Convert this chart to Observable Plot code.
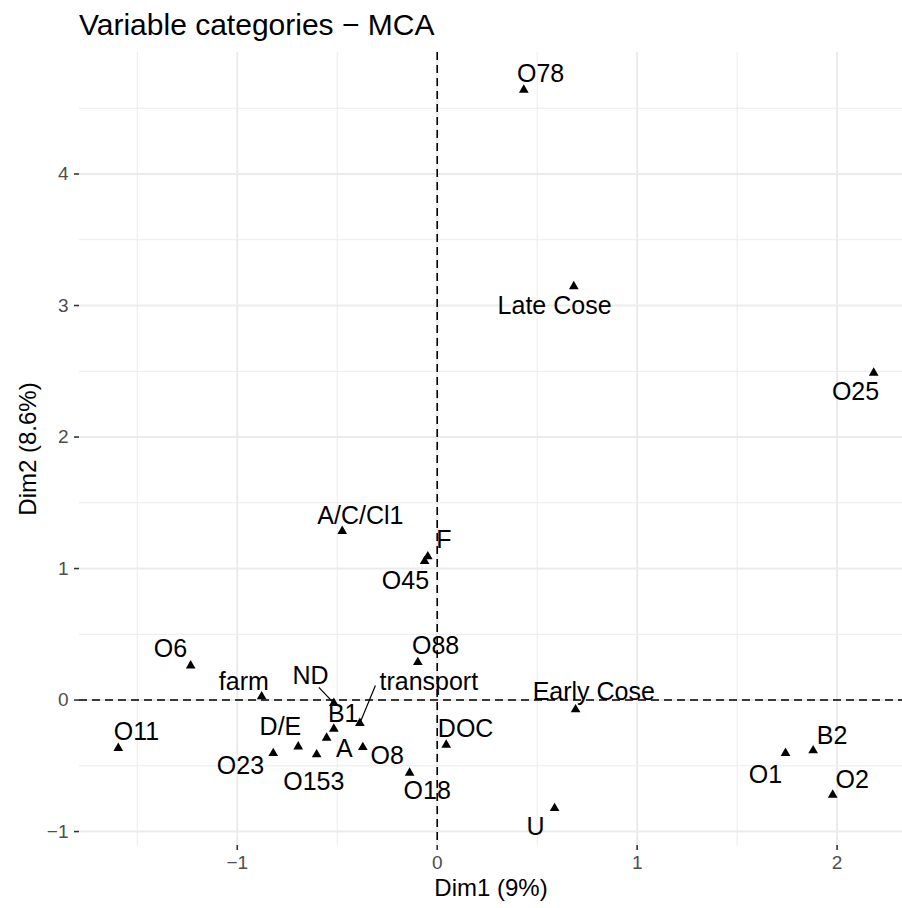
<!DOCTYPE html>
<html><head><meta charset="utf-8">
<script src="https://cdn.jsdelivr.net/npm/d3@7"></script>
<script src="https://cdn.jsdelivr.net/npm/@observablehq/plot@0.6"></script>
<style>
body{margin:0;background:#fff;font-family:"Liberation Sans",Arial,sans-serif;}
#title{height:40px;box-sizing:border-box;padding-top:10px;padding-left:79px;font-size:30px;line-height:1;color:#000;white-space:nowrap}
</style></head><body>
<div id="title">Variable categories − MCA</div>
<div id="chart"></div>
<script>
// Category labels and their coordinates on the first two MCA dimensions
const labels = ["O78","Late Cose","O25","A/C/Cl1","F","O45","O88","O6","farm","ND","transport","Early Cose","O11","D/E","B1","A","O8","DOC","O23","O153","O18","U","O1","B2","O2"];
const dim1 = [0.433, 0.683, 2.183, -0.475, -0.047, -0.063, -0.097, -1.233, -0.878, -0.517, -0.387, 0.692, -1.595, -0.695, -0.517, -0.553, -0.372, 0.045, -0.82, -0.603, -0.138, 0.587, 1.742, 1.88, 1.978];
const dim2 = [4.64, 3.145, 2.488, 1.284, 1.091, 1.055, 0.287, 0.262, 0.027, -0.024, -0.176, -0.072, -0.366, -0.354, -0.219, -0.288, -0.359, -0.341, -0.405, -0.414, -0.554, -0.823, -0.404, -0.384, -0.721];
// Repelled label positions (data units)
const labX = [0.517, 0.587, 2.092, -0.384, 0.033, -0.159, -0.008, -1.334, -0.967, -0.634, -0.042, 0.783, -1.504, -0.784, -0.47, -0.464, -0.25, 0.142, -0.984, -0.617, -0.05, 0.492, 1.642, 1.975, 2.075];
const labY = [4.762, 2.995, 2.341, 1.403, 1.218, 0.909, 0.414, 0.389, 0.141, 0.186, 0.135, 0.059, -0.245, -0.207, -0.105, -0.371, -0.422, -0.219, -0.498, -0.62, -0.688, -0.967, -0.567, -0.27, -0.607];
// Leader segments (start points in data units)
const segLabels = ["ND", "transport"];
const segX = [-0.592, -0.309];
const segY = [0.097, 0.110];
// Axes
const xDomain = [-1.789, 2.327];
const yDomain = [-1.106, 4.924];
const xTicks = [-1, 0, 1, 2];
const yTicks = [-1, 0, 1, 2, 3, 4];
const xMinor = [-1.5, -0.5, 0.5, 1.5];
const yMinor = [-0.5, 0.5, 1.5, 2.5, 3.5, 4.5];
const xTitle = "Dim1 (9%)";
const yTitle = "Dim2 (8.6%)";

const data = labels.map((label, i) => ({label, x: dim1[i], y: dim2[i], lx: labX[i], ly: labY[i]}));
const segs = segLabels.map((l, i) => {
  const d = data.find(e => e.label === l);
  return {x1: segX[i], y1: segY[i], x2: d.x, y2: d.y};
});
const fmt = d => (d < 0 ? "\u2212" + Math.abs(d) : String(d));

const grid = "#EBEBEB";
const plot = Plot.plot({
  width: 902, height: 868,
  marginTop: 12, marginBottom: 63, marginLeft: 79, marginRight: 0,
  style: {fontFamily: "Liberation Sans, Arial, sans-serif", background: "#fff", overflow: "visible"},
  x: {domain: xDomain},
  y: {domain: yDomain},
  marks: [
    Plot.ruleX(xMinor, {stroke: grid, strokeWidth: 1}),
    Plot.ruleY(yMinor, {stroke: grid, strokeWidth: 1}),
    Plot.ruleX(xTicks, {stroke: grid, strokeWidth: 2}),
    Plot.ruleY(yTicks, {stroke: grid, strokeWidth: 2}),
    Plot.ruleX([0], {stroke: "#000", strokeWidth: 1.6, strokeDasharray: "8,5"}),
    Plot.ruleY([0], {stroke: "#000", strokeWidth: 1.6, strokeDasharray: "8,5"}),
    Plot.axisX({ticks: xTicks, tickFormat: fmt, tickSize: 5, tickPadding: 5, fontSize: 19, fill: "#4D4D4D", stroke: "#333", strokeWidth: 1.6, label: null}),
    Plot.axisY({ticks: yTicks, tickFormat: fmt, tickSize: 5, tickPadding: 6, fontSize: 19, fill: "#4D4D4D", stroke: "#333", strokeWidth: 1.6, label: null}),
    Plot.link(segs, {x1: "x1", y1: "y1", x2: "x2", y2: "y2", stroke: "#000", strokeWidth: 1.2}),
    Plot.dot(data, {x: "x", y: "y", symbol: "triangle", r: 3.6, fill: "#000", stroke: "none"}),
    Plot.text(data, {x: "lx", y: "ly", text: "label", fontSize: 25, fill: "#000"}),
    Plot.text([xTitle], {text: d => d, frameAnchor: "bottom", dy: 43, lineAnchor: "middle", textAnchor: "middle", fontSize: 24, fill: "#000"}),
    Plot.text([yTitle], {text: d => d, frameAnchor: "left", dx: -51, rotate: -90, lineAnchor: "middle", textAnchor: "middle", fontSize: 24, fill: "#000"})
  ]
});
document.getElementById("chart").appendChild(plot);
</script>
</body></html>
